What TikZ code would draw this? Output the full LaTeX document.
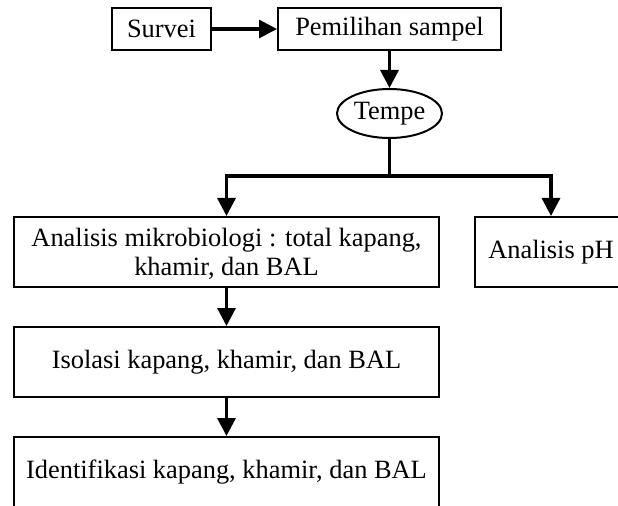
\documentclass[tikz,border=0pt]{standalone}
\usepackage{fontspec}
\setmainfont{Liberation Serif}
\usetikzlibrary{arrows.meta, shapes.geometric}

\begin{document}
\begin{tikzpicture}[x=0.75pt, y=-0.75pt,
        every node/.style={font=\fontsize{19.8}{22}\selectfont},
        box/.style={draw, line width=1.5pt, inner sep=0pt, minimum height=31.5pt, align=center},
        bigbox/.style={box, minimum width=318.75pt, minimum height=52.5pt},
        oval/.style={draw, ellipse, line width=1.5pt, inner sep=0pt, minimum width=78.75pt, minimum height=36.75pt},
        arr/.style={-{Triangle[length=13.5pt, width=13.5pt]}, line width=2.4pt},
        link/.style={line width=2.4pt}]
        \useasboundingbox (0, 0) rectangle (618, 506);

        \node[box, minimum width=74.25pt] (survei) at (161.5, 29) {Survei};
        \node[box, minimum width=167.25pt] (pilih) at (389.5, 29) {Pemilihan sampel};
        \node[oval] (tempe) at (389.5, 113.5) {Tempe};
        \coordinate (split) at (389.5, 176);
        \node[bigbox] (mikro) at (226.5, 252) {\rule{0pt}{17pt}Analisis mikrobiologi : total kapang,\\khamir, dan BAL};
        \node[box, minimum width=114pt, minimum height=52.5pt] (ph) at (551, 252) {Analisis pH};
        \node[bigbox] (isolasi) at (226.5, 362) {Isolasi kapang, khamir, dan BAL};
        \node[bigbox] (ident) at (226.5, 472) {Identifikasi kapang, khamir, dan BAL};

        \draw[arr] (survei) -- (pilih);
        \draw[arr] (pilih) -- (tempe);
        \draw[link] (tempe) -- (split);
        \draw[arr] (split) -| (mikro.north);
        \draw[arr] (split) -| (ph.north);
        \draw[arr] (mikro) -- (isolasi);
        \draw[arr] (isolasi) -- (ident);
    \end{tikzpicture}
\end{document}
